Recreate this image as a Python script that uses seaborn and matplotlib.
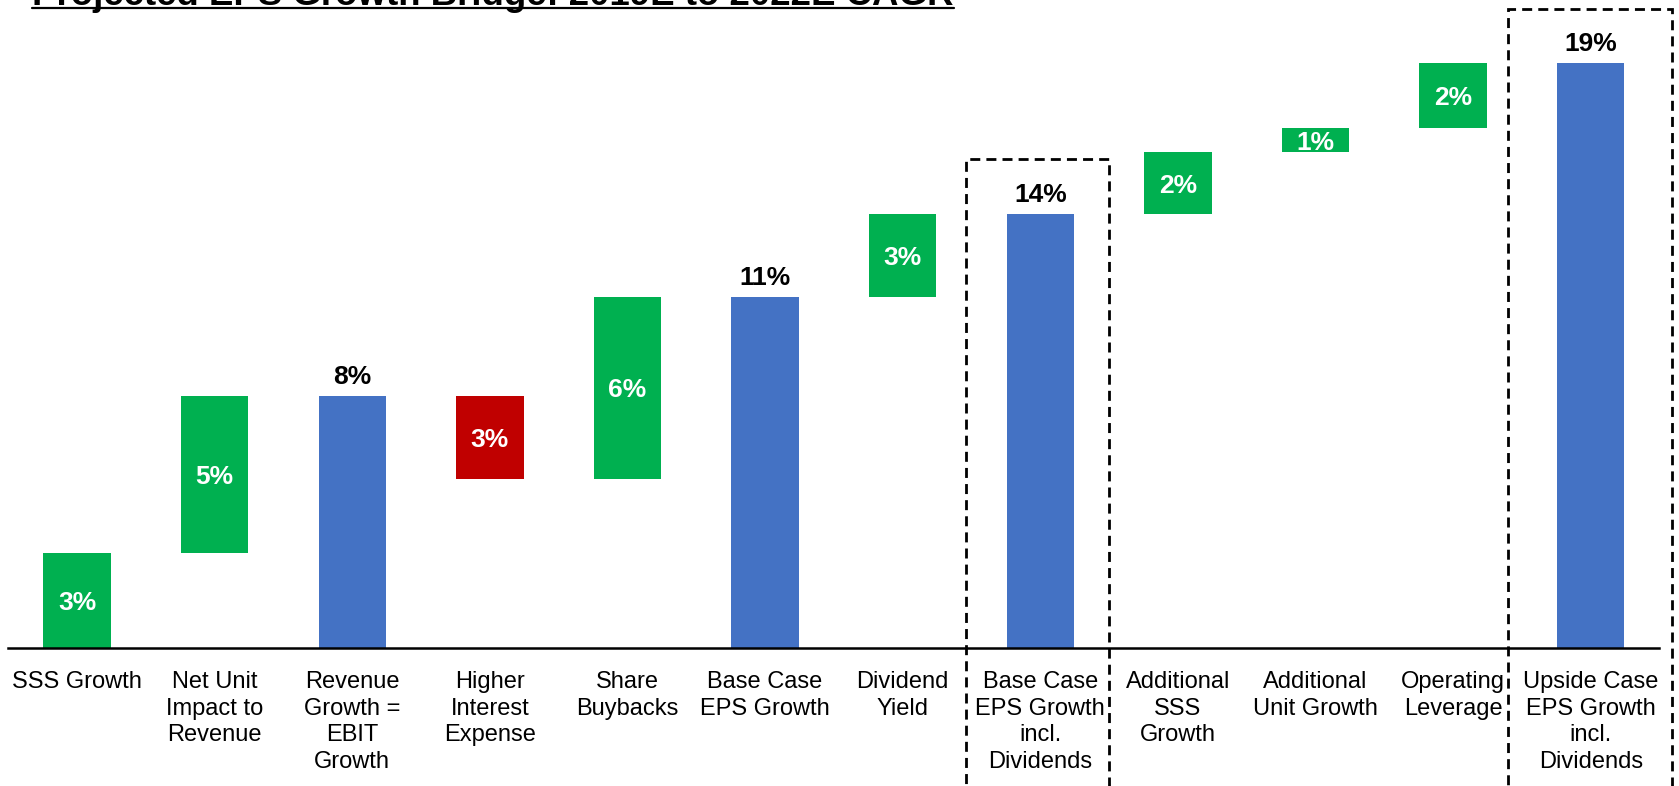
import matplotlib
matplotlib.use("Agg")
import matplotlib.pyplot as plt
from matplotlib.patches import Rectangle
from matplotlib.lines import Line2D
import numpy as np
import pandas as pd
import seaborn as sns

# Data (percent CAGR)
categories = [
    "SSS Growth",
    "Net Unit\nImpact to\nRevenue",
    "Revenue\nGrowth =\nEBIT\nGrowth",
    "Higher\nInterest\nExpense",
    "Share\nBuybacks",
    "Base Case\nEPS Growth",
    "Dividend\nYield",
    "Base Case\nEPS Growth\nincl.\nDividends",
    "Additional\nSSS\nGrowth",
    "Additional\nUnit Growth",
    "Operating\nLeverage",
    "Upside Case\nEPS Growth\nincl.\nDividends",
]
values = [3.1, 5.1, 8.2, -2.7, 5.9, 11.4, 2.7, 14.1, 2.0, 0.8, 2.1, 19.0]
kinds = ["step", "step", "total", "step", "step", "total",
         "step", "total", "step", "step", "step", "total"]
boxed = [7, 11]
title = "Projected EPS Growth Bridge: 2019E to 2022E CAGR"

GREEN = "#00B050"
RED = "#C00000"
BLUE = "#4472C4"

# running waterfall positions
tops, bases, colors = [], [], []
level = 0.0
for v, k in zip(values, kinds):
    if k == "total":
        level = v
        tops.append(v)
        bases.append(0.0)
        colors.append(BLUE)
    else:
        start = level
        level = level + v
        tops.append(max(start, level))
        bases.append(min(start, level))
        colors.append(GREEN if v >= 0 else RED)

df = pd.DataFrame({"category": categories, "top": tops, "base": bases})

sns.set_theme(style="white")
plt.rcParams["font.family"] = ["Liberation Sans", "DejaVu Sans"]

W, H = 1679, 786
fig = plt.figure(figsize=(W / 100, H / 100), dpi=100)
ax = fig.add_axes([8.3 / W, 138 / H, (1659.5 - 8.3) / W, 648 / H])

# bar reaching the top of each segment, then a white base hides the part below
sns.barplot(data=df, x="category", y="top", hue="category", palette=colors,
            legend=False, width=0.49, saturation=1, linewidth=0, ax=ax)
sns.barplot(data=df, x="category", y="base", color="white",
            width=0.49, saturation=1, linewidth=0, ax=ax)

ax.set_xlim(-0.5, len(categories) - 0.5)
ax.set_ylim(0, 21.05)
ax.set_xlabel("")
ax.set_ylabel("")
ax.set_yticks([])
sns.despine(ax=ax, left=True)
ax.spines["bottom"].set_color("black")
ax.spines["bottom"].set_linewidth(1.8)
ax.tick_params(axis="x", length=0, pad=16.5, labelsize=17, labelcolor="black")
for lbl in ax.get_xticklabels():
    lbl.set_linespacing(1.28)

# value labels
for i, (v, k) in enumerate(zip(values, kinds)):
    txt = f"{round(abs(v))}%"
    if k == "total":
        ax.annotate(txt, (i, tops[i]), xytext=(0, 8.6), textcoords="offset points",
                    ha="center", va="baseline", fontsize=19, fontweight="bold",
                    color="black")
    else:
        ax.text(i, (tops[i] + bases[i]) / 2, txt, ha="center", va="center_baseline",
                fontsize=19, fontweight="bold", color="white")

# dashed boxes around the EPS growth including dividends
box_specs = {7: (-0.54, 0.50), 11: (-0.60, 0.59)}
for i in boxed:
    lo, hi = box_specs[i]
    top = tops[i] + 1.8 if i == 7 else ax.get_ylim()[1] - 0.3
    ax.add_patch(Rectangle((i + lo, -8), hi - lo, top + 8, fill=False,
                           edgecolor="black", linewidth=2,
                           linestyle=(0, (3.6, 2.2)), clip_on=False))

# title, cut off at the top like the source slide
t = fig.text(32 / W, 1 - 5 / H, title, fontsize=26.4, fontweight="bold",
             ha="left", va="baseline", color="black")
fig.canvas.draw()
bb = t.get_window_extent()
fig.add_artist(Line2D([bb.x0 / W, bb.x1 / W], [1 - 8 / H, 1 - 8 / H],
                      color="black", linewidth=1.6, transform=fig.transFigure))

plt.savefig("out.png", dpi=100)
plt.close()
